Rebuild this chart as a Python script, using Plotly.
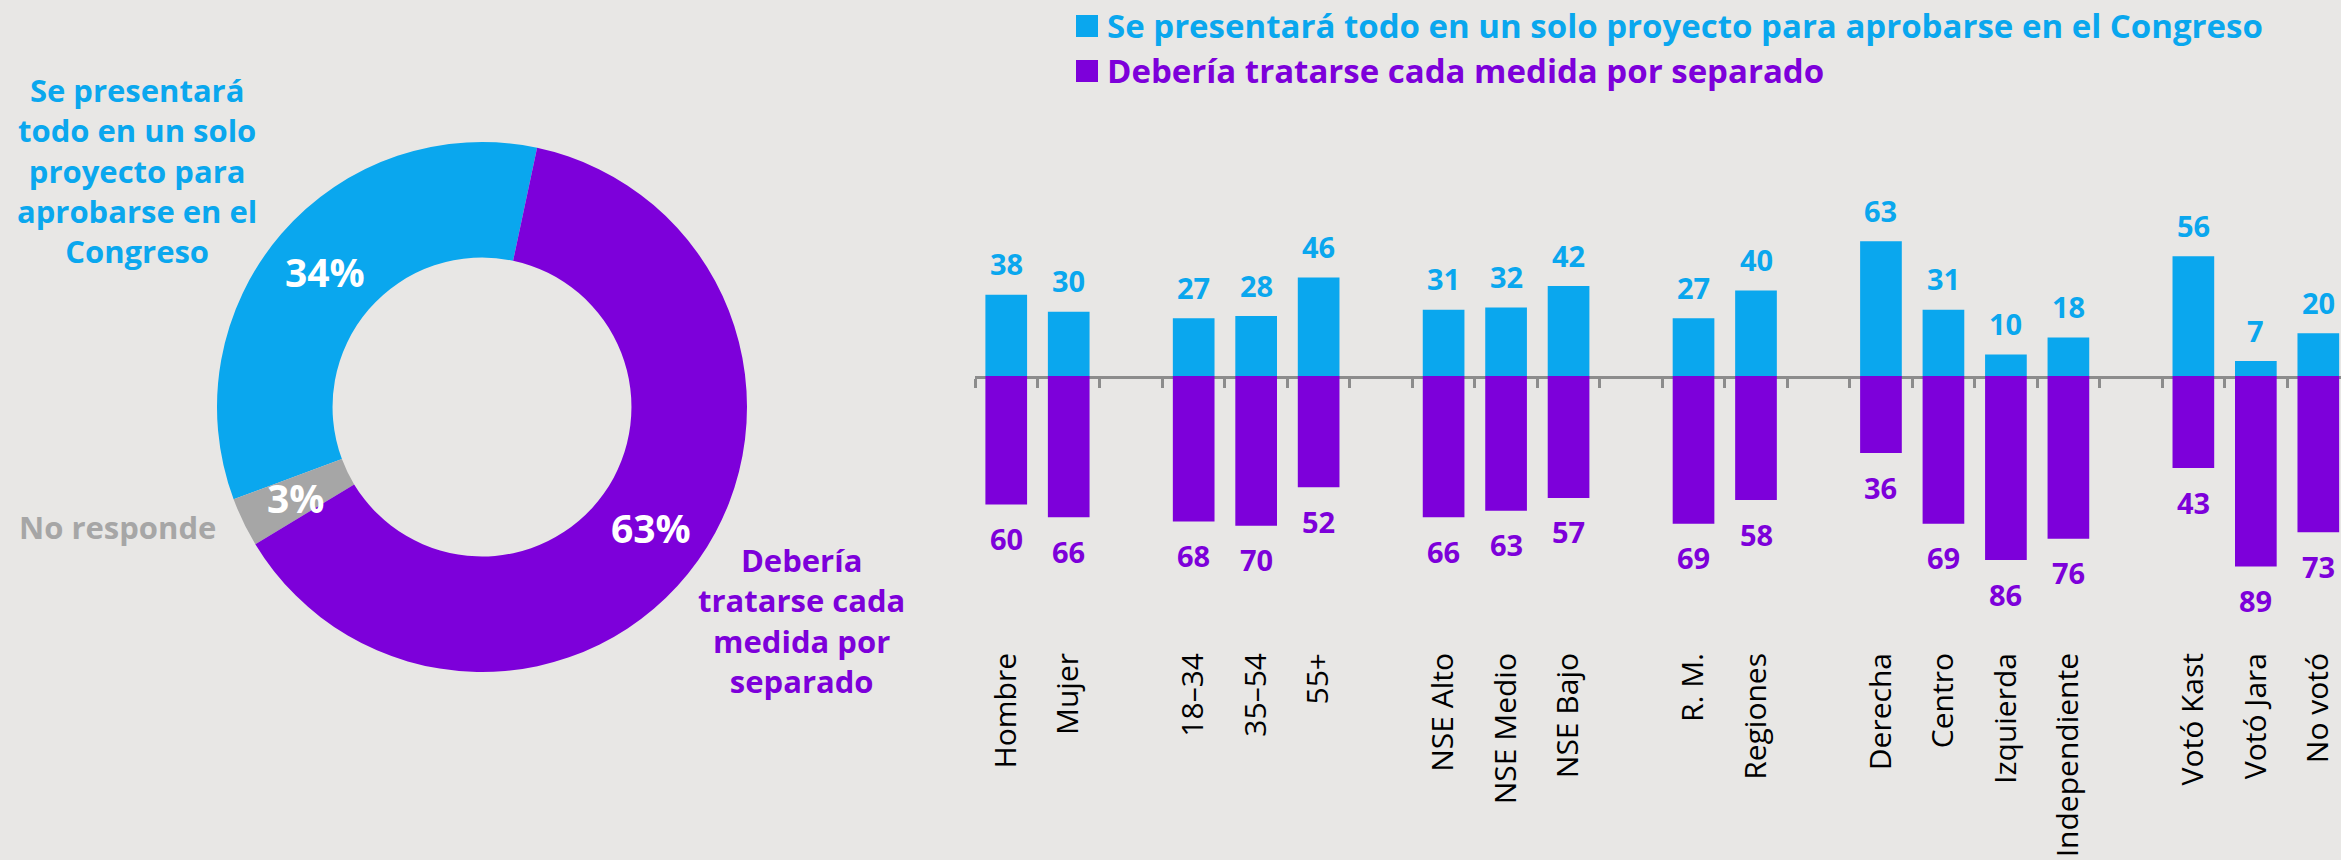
import math
import plotly.graph_objects as go

# ---------------- data ----------------
pie_labels = ["Se presentará todo en un solo proyecto para aprobarse en el Congreso",
              "No responde",
              "Debería tratarse cada medida por separado"]
pie_values = [34, 3, 63]

categories = ["Hombre", "Mujer",
              "18–34", "35–54", "55+",
              "NSE Alto", "NSE Medio", "NSE Bajo",
              "R. M.", "Regiones",
              "Derecha", "Centro", "Izquierda", "Independiente",
              "Votó Kast", "Votó Jara", "No votó"]
group_sizes = [2, 3, 3, 2, 4, 3]
presentara = [38, 30, 27, 28, 46, 31, 32, 42, 27, 40, 63, 31, 10, 18, 56, 7, 20]
separado = [60, 66, 68, 70, 52, 66, 63, 57, 69, 58, 36, 69, 86, 76, 43, 89, 73]

series_names = ["Se presentará todo en un solo proyecto para aprobarse en el Congreso",
                "Debería tratarse cada medida por separado"]

# donut outside labels (wrapped lines)
pie_label_lines = [["Se presentará", "todo en un solo", "proyecto para", "aprobarse en el", "Congreso"],
                   ["No responde"],
                   ["Debería", "tratarse cada", "medida por", "separado"]]

# ---------------- style ----------------
W, H = 2341, 860
BG = "#E8E7E5"
BLUE = "#0AA7EE"
PURPLE = "#7D00DA"
GREY = "#A6A6A6"
AXIS = "#8C8C8C"
FONT = "Open Sans"

# category axis with blank separators between groups
xcats, xp, xs = [], [], []
i = 0
for g, n in enumerate(group_sizes):
    for _ in range(n):
        xcats.append(categories[i]); xp.append(presentara[i]); xs.append(separado[i])
        i += 1
    if g < len(group_sizes) - 1:
        xcats.append(" " * (g + 1)); xp.append(None); xs.append(None)

zero_px, top_px, bot_px = 376, 150, 646
ppu = 2.14
x_left = 975
slot = 62.48
x_dom = [x_left / W, 1.0]
x_range = [-0.5, -0.5 + (W - x_left) / slot]

fig = go.Figure()

# donut
cx, cy, R = 482, 407, 265
hole = 0.564
total = sum(pie_values)
start_angle = 12.0  # clockwise from 12 o'clock, where the first slice ends
fig.add_trace(go.Pie(
    values=pie_values, labels=pie_labels,
    marker=dict(colors=[BLUE, GREY, PURPLE], line=dict(width=0)),
    hole=hole, sort=False, direction="counterclockwise",
    rotation=start_angle - 360 * pie_values[0] / total,
    textinfo="none", hoverinfo="label+percent", showlegend=False,
    domain=dict(x=[(cx - R) / W, (cx + R) / W], y=[(H - cy - R) / H, (H - cy + R) / H]),
))

fig.add_trace(go.Bar(
    x=xcats, y=xp, name=series_names[0], showlegend=False,
    marker=dict(color=BLUE, line=dict(width=0)), xaxis="x", yaxis="y",
))
fig.add_trace(go.Bar(
    x=xcats, y=[-v if v is not None else None for v in xs], name=series_names[1], showlegend=False,
    marker=dict(color=PURPLE, line=dict(width=0)), xaxis="x2", yaxis="y2",
))

annotations = []
shapes = []
# value labels
for c, v in zip(xcats, xp):
    if v is None:
        continue
    annotations.append(dict(x=c, y=v, xref="x", yref="y", text=f"<b>{v}</b>", showarrow=False,
                            xanchor="center", yanchor="middle", yshift=31,
                            font=dict(family=FONT, size=29, color=BLUE)))
for c, v in zip(xcats, xs):
    if v is None:
        continue
    annotations.append(dict(x=c, y=-v, xref="x2", yref="y2", text=f"<b>{v}</b>", showarrow=False,
                            xanchor="center", yanchor="middle", yshift=-34,
                            font=dict(family=FONT, size=29, color=PURPLE)))

# donut percentage labels (at ring mid radius, slice mid angle)
rm = R * (1 + hole) / 2
a = start_angle
for v in pie_values:
    mid = a - 360 * v / total / 2
    a -= 360 * v / total
    px = cx + rm * math.sin(math.radians(mid))
    py = cy - rm * math.cos(math.radians(mid))
    annotations.append(dict(x=px / W, y=1 - py / H, xref="paper", yref="paper",
                            text=f"<b>{v}%</b>", showarrow=False,
                            xanchor="center", yanchor="middle",
                            font=dict(family=FONT, size=39, color="white")))

# donut outer labels (block centre positions)
label_pos = [(137, 170.5), (117, 527), (801, 620)]
label_col = [BLUE, GREY, PURPLE]
for lines, (lx, ly), col in zip(pie_label_lines, label_pos, label_col):
    annotations.append(dict(x=lx / W, y=1 - ly / H, xref="paper", yref="paper",
                            text="<b>" + "<br>".join(lines) + "</b>", showarrow=False,
                            xanchor="center", yanchor="middle", align="center",
                            font=dict(family=FONT, size=31, color=col)))

# legend (squares + coloured bold texts)
leg_rows = [26, 71]
for name, col, yy in zip(series_names, [BLUE, PURPLE], leg_rows):
    shapes.append(dict(type="rect", xref="paper", yref="paper",
                       x0=1076 / W, x1=1098 / W, y0=1 - (yy + 11) / H, y1=1 - (yy - 11) / H,
                       fillcolor=col, line=dict(width=0)))
    annotations.append(dict(x=1105 / W, y=1 - (yy - 1) / H, xref="paper", yref="paper",
                            text=f"<b>{name}</b>", showarrow=False, xanchor="left", yanchor="middle",
                            font=dict(family=FONT, size=33, color=col)))

fig.update_layout(
    width=W, height=H, margin=dict(l=0, r=0, t=0, b=0),
    paper_bgcolor=BG, plot_bgcolor=BG, bargap=0.333,
    font=dict(family=FONT, color="black"),
    showlegend=False,
    xaxis=dict(domain=x_dom, anchor="y", type="category", categoryorder="array",
               categoryarray=xcats, range=x_range, showline=True, linecolor=AXIS, linewidth=3,
               ticks="outside", tickson="boundaries", ticklen=9, tickwidth=2.5, tickcolor=AXIS,
               showticklabels=False, showgrid=False, zeroline=False, fixedrange=True),
    yaxis=dict(domain=[(H - zero_px) / H, (H - top_px) / H], range=[0, (zero_px - top_px) / ppu],
               visible=False, fixedrange=True),
    xaxis2=dict(domain=x_dom, anchor="y2", type="category", categoryorder="array",
                categoryarray=xcats, matches="x", showline=False, ticks="",
                tickangle=-90, tickfont=dict(family=FONT, size=30, color="black"),
                showgrid=False, zeroline=False, fixedrange=True),
    yaxis2=dict(domain=[(H - bot_px) / H, (H - zero_px) / H], range=[-(bot_px - zero_px) / ppu, 0],
                visible=False, fixedrange=True),
    annotations=annotations,
    shapes=shapes,
)

fig.write_html("out.html", config={"displayModeBar": False},
               post_script="document.body.style.margin='0';document.body.style.background='%s';" % BG)
